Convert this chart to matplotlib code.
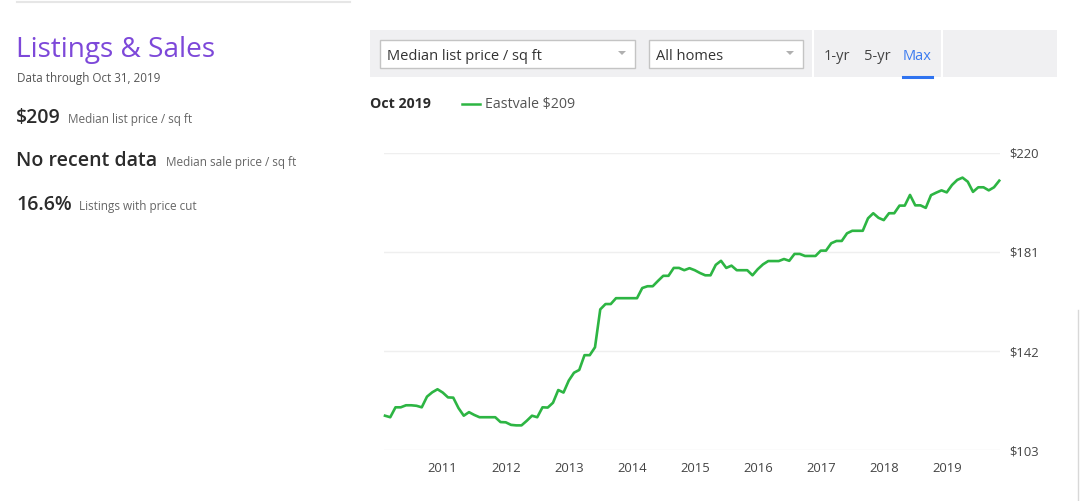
import matplotlib
matplotlib.use("Agg")
import matplotlib.pyplot as plt
from matplotlib.patches import Rectangle, Polygon
from matplotlib.lines import Line2D
import numpy as np

plt.rcParams['font.family'] = ['Open Sans', 'DejaVu Sans']

# median list price / sq ft, monthly, Jan 2010 .. Oct 2019
prices = [116.6, 116.0, 119.9, 119.9, 120.7, 120.7, 120.5, 119.9, 124.1, 125.8, 127.0, 125.7,  # 2010
          123.8, 123.7, 119.6, 116.6, 118.0, 116.9, 116.0, 116.0, 116.0, 116.0, 114.1, 114.0,  # 2011
          113.0, 112.8, 112.8, 114.6, 116.6, 116.0, 119.9, 119.8, 121.7, 126.7, 125.7, 130.4,  # 2012
          133.5, 134.6, 140.4, 140.4, 143.5, 158.4, 160.5, 160.5, 162.8, 162.8, 162.8, 162.8,  # 2013
          162.8, 166.8, 167.5, 167.5, 169.6, 171.6, 171.6, 174.7, 174.7, 173.8, 174.6, 173.8,  # 2014
          172.7, 171.8, 171.8, 175.9, 177.5, 174.7, 175.6, 173.8, 173.8, 173.8, 171.8, 174.2,  # 2015
          176.1, 177.4, 177.4, 177.4, 178.2, 177.5, 180.2, 180.2, 179.4, 179.4, 179.4, 181.5,  # 2016
          181.5, 184.4, 185.3, 185.3, 188.3, 189.3, 189.3, 189.3, 194.2, 196.2, 194.4, 193.5,  # 2017
          196.2, 196.2, 199.2, 199.2, 203.4, 199.3, 199.3, 198.3, 203.3, 204.3, 205.2, 204.4,  # 2018
          207.3, 209.3, 210.2, 208.6, 204.6, 206.4, 206.4, 205.2, 206.4, 209.0]               # 2019
year_labels = ['2011', '2012', '2013', '2014', '2015', '2016', '2017', '2018', '2019']
y_ticks = [103, 142, 181, 220]

W, H = 1080, 501
GREEN = '#2db543'


def px(x, y):
    # pixel coords (origin top-left) -> figure fraction
    return x / W, 1 - y / H


fig = plt.figure(figsize=(10.8, 5.01), dpi=100)

# ---- left panel ----
fig.add_artist(Line2D([17 / W, 350 / W], [1 - 1.5 / H] * 2, color='#e6e6e6', lw=1.5))
fig.text(*px(16, 57), 'Listings & Sales', color='#7d48d9', fontsize=20.2, va='baseline')
fig.text(*px(17, 82), 'Data through Oct 31, 2019', color='#555555', fontsize=8.4, va='baseline')

stats = [('$209', 'Median list price / sq ft', 122.5, 68),
         ('No recent data', 'Median sale price / sq ft', 166, 166),
         ('16.6%', 'Listings with price cut', 210, 79)]
for big, small, yb, xs in stats:
    fig.text(*px(16, yb), big, color='#2b2b2b', fontsize=14, fontweight='semibold', va='baseline')
    fig.text(*px(xs, yb), small, color='#666666', fontsize=8.5, va='baseline')

# ---- control bar ----
fig.add_artist(Rectangle(px(370, 77), 687 / W, 47 / H, transform=fig.transFigure,
                         facecolor='#f0f0f2', edgecolor='none'))
for x0, x1, label in [(380, 635, 'Median list price / sq ft'), (649, 803, 'All homes')]:
    fig.add_artist(Rectangle(px(x0, 68), (x1 - x0) / W, 28 / H, transform=fig.transFigure,
                             facecolor='white', edgecolor='#c4c4c4', lw=1))
    fig.text(*px(x0 + 7, 60), label, color='#333333', fontsize=10.5, va='baseline')
    ax_ = x1 - 13
    tri = [px(ax_ - 4, 51), px(ax_ + 4, 51), px(ax_, 55)]
    fig.add_artist(Polygon(tri, closed=True, transform=fig.transFigure,
                           facecolor='#b0b0b0', edgecolor='none'))
for xd in [813, 942]:
    fig.add_artist(Line2D([xd / W] * 2, [1 - 30 / H, 1 - 77 / H], color='white', lw=1.5))
fig.text(*px(824, 60), '1-yr', color='#444444', fontsize=10.5, va='baseline')
fig.text(*px(864, 60), '5-yr', color='#444444', fontsize=10.5, va='baseline')
fig.text(*px(903, 60), 'Max', color='#3b7bf0', fontsize=10.5, va='baseline')
fig.add_artist(Line2D([903 / W, 932 / W], [1 - 76.5 / H] * 2, color='#2f73f0', lw=2.2))

# ---- legend row ----
fig.text(*px(370, 108), 'Oct 2019', color='#2b2b2b', fontsize=10.2, fontweight='bold', va='baseline')
fig.add_artist(Line2D([462 / W, 480 / W], [1 - 103.5 / H] * 2, color=GREEN, lw=1.8))
fig.text(*px(485, 108), 'Eastvale $209', color='#555555', fontsize=10.2, va='baseline')

# scrollbar edge
fig.add_artist(Line2D([1078 / W] * 2, [1 - 310 / H, 0], color='#d8d8d8', lw=1))

# ---- chart ----
left, right, top, bottom = 384, 1000, 152.7, 450.3
ax = fig.add_axes([left / W, 1 - bottom / H, (right - left) / W, (bottom - top) / H])
months = np.arange(len(prices))
ax.plot(months, prices, color=GREEN, lw=1.9, solid_joinstyle='round', clip_on=False)

ax.set_xlim(-1 / 5.25, 117 + 0.75 / 5.25)
ax.set_ylim(103, 220)
ax.set_yticks(y_ticks)
ax.set_yticklabels(['$%d' % v for v in y_ticks])
ax.yaxis.tick_right()
ax.set_xticks([12 * (k + 1) - 1 for k in range(len(year_labels))])
ax.set_xticklabels(year_labels)
ax.tick_params(axis='both', length=0, labelsize=9.4, labelcolor='#444444')
ax.tick_params(axis='y', pad=7)
ax.tick_params(axis='x', pad=8.5)
ax.grid(axis='y', color='#efefef', lw=1)
ax.set_axisbelow(True)
for s in ax.spines.values():
    s.set_visible(False)

fig.savefig('out.png', dpi=100)
